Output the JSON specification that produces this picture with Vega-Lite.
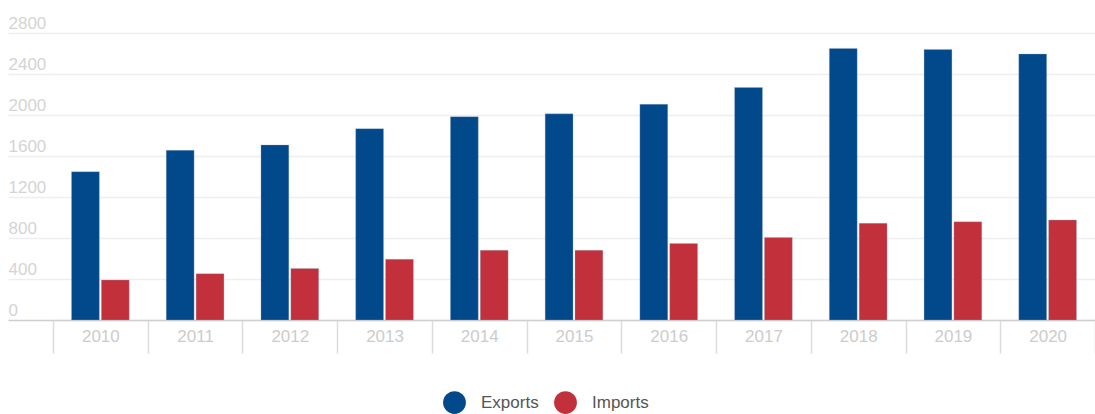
{
  "$schema": "https://vega.github.io/schema/vega-lite/v6.json",
  "autosize": "none",
  "width": 1042,
  "height": 287,
  "padding": {"left": 53, "top": 33, "right": 0, "bottom": 94},
  "background": "white",
  "data": {
    "values": [
      {"year": "2010", "series": "Exports", "value": 1447},
      {"year": "2010", "series": "Imports", "value": 390},
      {"year": "2011", "series": "Exports", "value": 1655},
      {"year": "2011", "series": "Imports", "value": 452},
      {"year": "2012", "series": "Exports", "value": 1708},
      {"year": "2012", "series": "Imports", "value": 502},
      {"year": "2013", "series": "Exports", "value": 1867},
      {"year": "2013", "series": "Imports", "value": 592},
      {"year": "2014", "series": "Exports", "value": 1984},
      {"year": "2014", "series": "Imports", "value": 680},
      {"year": "2015", "series": "Exports", "value": 2011},
      {"year": "2015", "series": "Imports", "value": 680},
      {"year": "2016", "series": "Exports", "value": 2104},
      {"year": "2016", "series": "Imports", "value": 746},
      {"year": "2017", "series": "Exports", "value": 2268},
      {"year": "2017", "series": "Imports", "value": 805},
      {"year": "2018", "series": "Exports", "value": 2650},
      {"year": "2018", "series": "Imports", "value": 943},
      {"year": "2019", "series": "Exports", "value": 2640},
      {"year": "2019", "series": "Imports", "value": 958},
      {"year": "2020", "series": "Exports", "value": 2595},
      {"year": "2020", "series": "Imports", "value": 975}
    ]
  },
  "mark": {"type": "bar", "stroke": "#9fb6d1", "strokeWidth": 0.5, "strokeOpacity": 0.6},
  "encoding": {
    "x": {
      "field": "year",
      "type": "nominal",
      "scale": {"paddingInner": 0, "paddingOuter": 0},
      "axis": {
        "title": null,
        "labelAngle": 0,
        "labelColor": "#cccccc",
        "labelFont": "Liberation Sans",
        "labelFontSize": 17,
        "labelPadding": -25,
        "tickBand": "extent",
        "tickSize": 33,
        "tickColor": "#dcdcdc",
        "tickWidth": 1.5,
        "domainColor": "#cfcfcf",
        "domainWidth": 1.5,
        "grid": false
      }
    },
    "xOffset": {
      "field": "series",
      "type": "nominal",
      "scale": {"paddingInner": 0.067, "paddingOuter": 0.62}
    },
    "y": {
      "field": "value",
      "type": "quantitative",
      "scale": {"domain": [0, 2800], "nice": false},
      "axis": {
        "title": null,
        "format": "d",
        "values": [0, 400, 800, 1200, 1600, 2000, 2400, 2800],
        "domain": false,
        "grid": true,
        "gridColor": "#eeeeee",
        "gridWidth": 1.5,
        "tickSize": 45,
        "tickColor": {"condition": {"test": "datum.value === 0", "value": "#cfcfcf"}, "value": "#eeeeee"},
        "tickWidth": 1.5,
        "labelAlign": "left",
        "labelBaseline": "alphabetic",
        "labelPadding": 0,
        "labelOffset": -5,
        "labelColor": "#d4d4d4",
        "labelFont": "Liberation Sans",
        "labelFontSize": 17
      }
    },
    "color": {
      "field": "series",
      "type": "nominal",
      "scale": {"domain": ["Exports", "Imports"], "range": ["#02498c", "#c1303b"]},
      "legend": {
        "title": null,
        "orient": "none",
        "direction": "horizontal",
        "legendX": 390,
        "legendY": 358,
        "symbolType": "circle",
        "symbolSize": 520,
        "symbolStrokeWidth": 0,
        "labelFont": "Liberation Sans",
        "labelFontSize": 17,
        "labelColor": "#555555",
        "labelOffset": 15,
        "columnPadding": 15
      }
    }
  },
  "config": {"view": {"stroke": null}}
}
